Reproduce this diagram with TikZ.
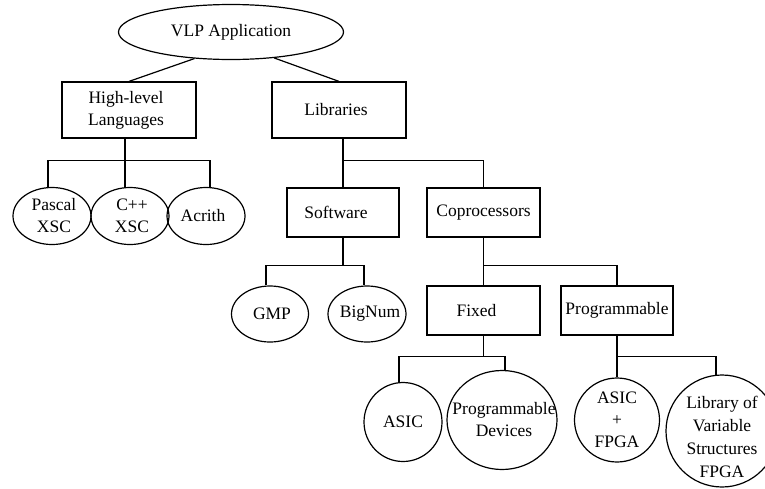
\documentclass[tikz,border=0pt]{standalone}
\usepackage{fontspec}
\setmainfont{Liberation Serif}
\usetikzlibrary{shapes.geometric}
\begin{document}
\begin{tikzpicture}[x=1pt,y=-1pt,
  line width=1.2pt,
  oval/.style={draw,ellipse,inner sep=0pt},
  box/.style={draw,rectangle,inner sep=0pt},
  txt/.style={inner sep=0pt,align=center,font=\fontsize{17.5}{22}\selectfont}]
\useasboundingbox (0,0) rectangle (765,488);

% root
\node[oval,minimum width=225,minimum height=55] (vlp) at (231,32) {};
\node[txt] (vlp-t) at (vlp.center) {VLP Application};

% second level
\node[box,minimum width=134,minimum height=56] (hl) at (129,110) {};
\node[txt] (hl-t) at ([xshift=-3pt]hl.center) {High-level\\Languages};
\node[box,minimum width=134,minimum height=56] (lib) at (339,110) {};
\node[txt] (lib-t) at ([xshift=-3pt]lib.center) {Libraries};

% languages
\node[oval,minimum width=78,minimum height=57] (pascal) at (52,216) {};
\node[txt] (pascal-t) at ([xshift=2pt]pascal.center) {Pascal\\XSC};
\node[oval,minimum width=78,minimum height=57] (cpp) at (130,216) {};
\node[txt] (cpp-t) at ([xshift=2pt]cpp.center) {C++\\XSC};
\node[oval,minimum width=78,minimum height=57] (acrith) at (206,216) {};
\node[txt] (acrith-t) at ([xshift=-3pt]acrith.center) {Acrith};

% libraries
\node[box,minimum width=112,minimum height=49] (sw) at (343,212.5) {};
\node[txt] (sw-t) at ([xshift=-7pt]sw.center) {Software};
\node[box,minimum width=113,minimum height=49] (cop) at (483.5,212.5) {};
\node[txt] (cop-t) at (cop.center) {Coprocessors};

% software packages
\node[oval,minimum width=77,minimum height=56] (gmp) at (270,314) {};
\node[txt] (gmp-t) at ([xshift=2pt]gmp.center) {GMP};
\node[oval,minimum width=78,minimum height=56] (bignum) at (367,314) {};
\node[txt] (bignum-t) at ([xshift=3pt]bignum.center) {BigNum};

% coprocessors
\node[box,minimum width=113,minimum height=49] (fixed) at (483.5,310.5) {};
\node[txt] (fixed-t) at ([xshift=-7pt]fixed.center) {Fixed};
\node[box,minimum width=112,minimum height=49] (prog) at (617,310.5) {};
\node[txt] (prog-t) at (prog.center) {Programmable};

% hardware leaves
\node[oval,minimum width=78,minimum height=79] (asic) at (403,422) {};
\node[txt] (asic-t) at (asic.center) {ASIC};
\node[oval,minimum width=110,minimum height=99] (pd) at (502,420) {};
\node[txt] (pd-t) at ([xshift=2pt]pd.center) {Programmable\\Devices};
\node[oval,minimum width=85,minimum height=84] (af) at (617,420) {};
\node[txt] (af-t) at (af.center) {ASIC\\+\\FPGA};
\node[oval,minimum width=112,minimum height=112] (lvs) at (722,431) {};
\node[txt,font=\fontsize{17.5}{23}\selectfont] (lvs-t) at ([yshift=-6pt]lvs.center) {Library of\\Variable\\Structures\\FPGA};

% connectors
\draw (vlp.216) -- (hl.north);
\draw (vlp.-31) -- (lib.north);

\coordinate (hlj) at ([yshift=-22pt]hl.south);
\draw ([xshift=-4pt]pascal.north) |- (hlj) -| ([xshift=4pt]acrith.north);
\draw ([xshift=-4pt]hl.south) -- ([xshift=-5pt]cpp.north);

\coordinate (libj) at ([yshift=-22pt]sw.north |- lib.south);
\draw (sw.north |- lib.south) -- (sw.north);
\draw (libj) -| (cop.north);

\coordinate (swj) at ([yshift=-28pt]sw.south);
\draw ([xshift=-4pt]gmp.north) |- (swj) -| ([xshift=-3pt]bignum.north);
\draw (sw.south) -- (swj);

\coordinate (copj) at ([yshift=-28pt]cop.south);
\draw (fixed.north) |- (copj) -| (prog.north);
\draw (cop.south) -- (copj);

\coordinate (fixj) at ([yshift=-21pt]fixed.south);
\draw ([xshift=-4pt]asic.north) |- (fixj) -| ([xshift=3pt]pd.north);
\draw (fixed.south) -- (fixj);

\coordinate (progj) at ([yshift=-21pt]prog.south);
\draw (af.north) |- (progj) -| ([xshift=-6pt,yshift=-0.5pt]lvs.north);
\draw (prog.south) -- (progj);
\end{tikzpicture}
\end{document}
